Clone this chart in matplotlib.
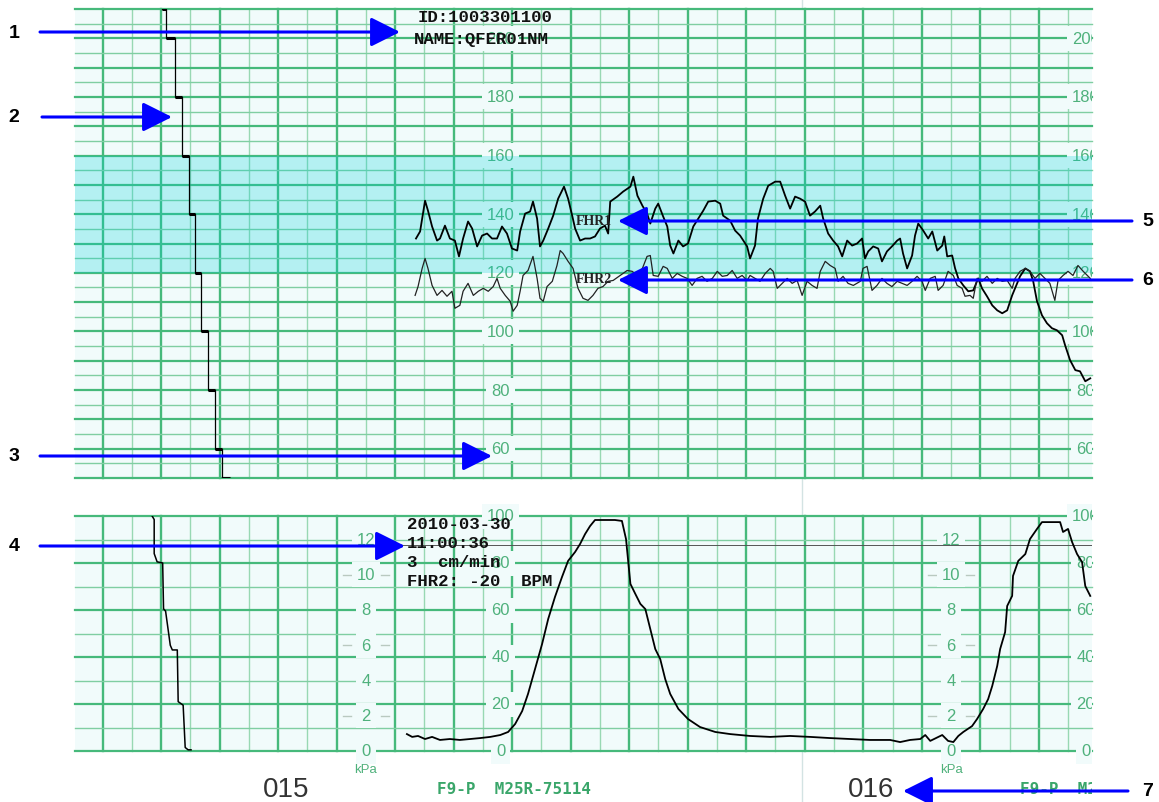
import numpy as np
import matplotlib.pyplot as plt
from matplotlib.transforms import Bbox, TransformedBbox

# --- Trace data (time in s, FHR in bpm, UA in %) ---
fhr1_t = [107.1, 108.5, 110.2, 111.2, 112.6, 114.3, 115.3, 117.0, 118.7, 120.4, 121.8, 123.2,
          124.9, 126.3, 128.0, 129.7, 131.4, 133.1, 134.8, 136.5, 138.2, 139.9, 141.7, 142.7,
          144.4, 146.1, 147.1, 148.5, 149.5, 150.6, 152.3, 154.0, 155.7, 157.7, 159.1, 160.5,
          161.5, 163.2, 164.9, 166.6, 168.3, 170.0, 171.7, 172.8, 173.5, 175.9, 177.9, 180.4,
          181.4, 182.8, 184.5, 186.1, 187.2, 188.9, 189.9, 191.6, 193.0, 194.0, 195.1, 196.8,
          198.4, 200.1, 201.9, 203.6, 205.3, 207.0, 209.4, 211.1, 212.1, 214.5, 216.2, 217.9,
          220.3, 221.3, 223.0, 224.0, 225.8, 227.5, 229.9, 231.6, 233.3, 235.0, 236.7, 238.4,
          240.1, 241.8, 243.5, 245.3, 246.3, 248.0, 249.7, 251.4, 252.8, 254.5, 256.2, 257.9,
          259.6, 260.6, 261.7, 263.4, 265.1, 266.4, 268.1, 269.8, 271.6, 272.6, 273.6, 275.0,
          276.7, 277.7, 278.8, 280.5, 282.2, 283.6, 285.3, 287.0, 287.7, 288.7, 290.4, 291.4,
          292.5, 294.2, 295.9, 297.6, 299.3, 300.6, 302.3, 304.1, 305.8, 307.5, 309.2, 310.9,
          311.9, 313.6, 315.4, 317.0, 318.1, 319.4, 321.1, 322.8, 324.5, 326.2, 328.0, 329.0,
          330.7, 332.5, 334.1, 335.9, 337.6]
fhr1_bpm = [131.7, 134.1, 144.6, 141.2, 135.8, 131.0, 131.7, 136.1, 131.7, 131.0, 125.6, 131.7,
            137.5, 135.1, 129.0, 132.7, 133.4, 131.7, 131.7, 135.8, 133.4, 128.3, 127.6, 134.1,
            140.2, 140.9, 144.3, 138.5, 129.0, 131.0, 135.1, 139.5, 145.3, 149.4, 145.3, 139.5,
            135.1, 131.0, 131.7, 131.7, 132.4, 135.1, 136.1, 133.4, 144.3, 146.0, 147.7, 149.4,
            152.8, 146.3, 142.9, 140.2, 136.8, 141.9, 143.6, 139.2, 135.8, 129.3, 126.6, 131.0,
            129.0, 130.0, 135.8, 138.5, 141.2, 144.3, 144.6, 143.6, 139.5, 137.8, 134.4, 132.7,
            129.0, 124.9, 129.3, 138.5, 145.3, 149.7, 151.1, 151.1, 146.3, 141.9, 146.0, 145.3,
            144.3, 139.5, 140.9, 142.9, 138.5, 133.4, 131.0, 129.0, 125.6, 131.0, 129.3, 130.0,
            131.7, 124.9, 127.3, 129.0, 128.3, 123.9, 127.3, 129.0, 131.0, 131.7, 126.6, 121.5,
            125.9, 132.7, 136.8, 134.4, 131.7, 134.1, 127.6, 129.3, 132.4, 125.6, 125.9, 121.5,
            118.1, 115.7, 113.7, 114.0, 118.1, 114.7, 112.0, 108.9, 107.2, 106.2, 107.2, 112.3,
            114.7, 118.8, 121.5, 120.5, 117.1, 110.3, 105.5, 102.8, 101.1, 100.4, 98.7, 95.3,
            90.2, 86.8, 86.4, 83.0, 84.0]

fhr2_t = [106.8, 107.8, 109.2, 110.2, 111.2, 112.6, 114.3, 116.0, 117.7, 119.4, 120.4, 122.1,
          123.2, 124.9, 126.7, 128.4, 130.1, 131.8, 133.5, 134.8, 135.9, 137.6, 139.3, 140.3,
          141.7, 142.7, 143.7, 145.4, 147.1, 148.5, 149.5, 150.6, 151.9, 153.7, 155.3, 156.4,
          157.4, 159.1, 160.8, 162.5, 164.2, 165.9, 167.6, 169.3, 171.0, 172.8, 174.5, 176.9,
          179.3, 181.0, 182.8, 184.5, 186.1, 187.2, 188.2, 189.9, 191.6, 193.0, 194.7, 196.4,
          198.1, 199.8, 201.5, 203.2, 204.9, 206.6, 208.4, 210.1, 211.8, 213.5, 215.2, 216.9,
          218.6, 220.3, 221.3, 223.0, 224.7, 226.5, 228.2, 229.2, 230.6, 232.3, 234.0, 235.7,
          237.4, 239.1, 240.8, 242.5, 244.2, 245.3, 247.0, 248.7, 250.4, 251.4, 253.1, 254.8,
          256.6, 259.0, 259.9, 261.3, 263.0, 264.7, 266.4, 268.1, 269.8, 271.6, 273.3, 275.0,
          276.7, 278.4, 280.1, 281.2, 282.9, 284.6, 285.6, 287.3, 289.0, 290.8, 292.1, 293.8,
          294.8, 296.5, 297.6, 298.9, 300.6, 302.3, 304.1, 305.8, 307.5, 309.2, 310.9, 311.9,
          313.6, 315.4, 317.0, 318.7, 320.4, 322.1, 323.8, 325.5, 326.6, 328.3, 330.0, 331.7,
          333.4, 335.2, 337.6]
fhr2_bpm = [112.3, 115.3, 121.5, 124.9, 121.5, 115.7, 112.3, 114.0, 112.0, 113.7, 107.9, 108.9,
            113.7, 116.4, 112.3, 113.7, 114.7, 113.7, 115.3, 118.1, 114.7, 112.3, 110.3, 106.9,
            108.9, 113.7, 119.1, 120.8, 125.6, 118.1, 111.3, 110.3, 115.3, 117.1, 122.5, 127.6,
            126.6, 123.9, 121.5, 114.7, 111.3, 110.6, 112.3, 114.7, 115.3, 117.1, 117.4, 119.1,
            120.8, 120.5, 119.1, 121.5, 125.6, 125.9, 119.1, 118.8, 122.2, 121.5, 118.1, 119.8,
            118.8, 118.1, 115.7, 118.1, 118.8, 117.1, 118.1, 120.5, 118.8, 119.1, 120.8, 118.1,
            119.1, 117.4, 119.1, 118.1, 117.1, 119.8, 121.5, 120.5, 114.7, 116.4, 118.1, 116.4,
            117.4, 112.3, 117.1, 115.7, 114.7, 120.5, 123.9, 122.5, 121.5, 117.1, 118.8, 116.4,
            115.7, 117.1, 121.5, 122.2, 114.0, 115.7, 118.1, 116.4, 115.3, 117.1, 116.4, 115.7,
            117.1, 118.8, 117.1, 114.0, 118.1, 118.8, 114.0, 115.7, 120.5, 119.1, 115.7, 114.7,
            112.0, 112.3, 111.3, 118.1, 117.1, 118.8, 116.4, 118.1, 117.1, 117.4, 114.7, 118.1,
            120.5, 121.5, 120.5, 118.1, 119.8, 118.1, 116.4, 110.6, 117.4, 119.1, 120.5, 119.1,
            122.5, 120.5, 118.1]

ua_t = [104.0, 105.8, 107.8, 110.2, 112.6, 115.3, 118.7, 122.1, 125.6, 129.0, 132.5, 135.9,
        138.6, 141.0, 143.4, 145.4, 147.8, 150.2, 152.3, 154.6, 157.0, 159.1, 161.5, 163.2,
        164.9, 166.6, 168.3, 171.7, 175.1, 177.5, 178.9, 180.4, 182.1, 183.8, 185.5, 187.2,
        188.9, 190.6, 192.3, 194.0, 196.8, 200.1, 204.2, 209.4, 214.5, 221.3, 228.2, 235.0,
        241.8, 248.7, 255.5, 262.3, 269.2, 272.6, 276.0, 279.5, 281.2, 282.9, 287.0, 289.0,
        290.8, 292.5, 294.2, 297.2, 298.9, 301.0, 302.7, 304.1, 305.8, 306.8, 308.5, 309.2,
        310.9, 311.2, 313.0, 315.4, 317.0, 319.4, 321.1, 327.3, 328.3, 330.0, 331.4, 333.1,
        334.8, 335.9, 337.6]
ua_pct = [7.2, 6.0, 6.4, 5.1, 6.0, 4.7, 5.1, 4.7, 5.1, 5.5, 6.0, 6.8,
          8.1, 11.5, 17.0, 24.3, 34.9, 45.5, 56.2, 65.5, 74.0, 80.9, 84.7, 88.1,
          92.3, 95.7, 98.3, 98.3, 98.3, 97.9, 90.2, 71.1, 66.8, 62.6, 60.4, 51.9,
          43.4, 39.1, 30.6, 24.3, 17.9, 13.6, 10.2, 8.1, 7.2, 6.4, 6.0, 6.4,
          6.0, 5.5, 5.1, 4.7, 4.7, 3.8, 4.7, 5.1, 6.8, 4.3, 6.8, 4.3,
          3.8, 6.4, 8.1, 10.6, 13.6, 17.9, 22.1, 27.7, 36.2, 43.4, 50.6, 61.7,
          66.0, 74.5, 80.9, 83.8, 90.2, 94.5, 97.4, 97.4, 93.2, 94.5, 88.9, 83.8,
          80.4, 70.2, 66.0]

# calibration staircases printed at the start of the strip
cal_fhr_t = [20.3, 21.6, 24.7, 27.1, 29.5, 31.6, 33.6, 36.0, 38.4, 40.8, 43.5]
cal_fhr_bpm = [210, 200, 180, 160, 140, 120, 100, 80, 60, 50, 50]
cal_ua_t = [16.9, 17.6, 17.6, 18.6, 20.5, 20.8, 21.5, 23.1, 23.8, 25.5, 25.8, 27.5, 28.2, 29.2, 30.2]
cal_ua_pct = [100, 98.5, 84.0, 80.5, 80.0, 60.5, 59.5, 45.0, 43.0, 43.0, 21.0, 19.5, 1.5, 0.5, 0.5]

# scale labels
bpm_labels = [200, 180, 160, 140, 120, 100, 80, 60]
pct_labels = [100, 80, 60, 40, 20, 0]
kpa_labels = [12, 10, 8, 6, 4, 2, 0]
kpa_to_pct = 7.5
label_cols_t = [136, 336]      # bpm / % columns
kpa_cols_t = [90, 290]         # kPa columns
page_numbers = ['015', '016']
page_t = [62.7, 262.7]
paper_code = 'F9-P  M25R-75114'
paper_code_t = [114.4, 313.6]
fold_t = 239.2                 # page perforation

header_lines = ['ID:1003301100', 'NAME:QFER01NM']
info_lines = ['2010-03-30', '11:00:36', '3  cm/min', 'FHR2: -20  BPM']

# callouts: (number, y px, arrow tail x, arrow head x, number x)
callouts = [('1', 33, 40, 400, 14), ('2', 118, 42, 172, 14), ('3', 457, 40, 492, 14),
            ('4', 547, 40, 405, 14), ('5', 222, 1132, 618, 1148), ('6', 281, 1132, 618, 1148),
            ('7', 792, 1128, 903, 1148)]

# --- style ---
W, H = 1159, 803
paper = '#f1fbfb'
thick_g = '#46b97b'
thin_g = '#98d8b3'
lab_g = '#4fb17c'
T0, T1 = -9.47, 338.2

fig = plt.figure(figsize=(W / 100, H / 100), dpi=100)
fig.patch.set_facecolor('white')
clipbox = TransformedBbox(Bbox([[0, 0], [1092 / W, 1]]), fig.transFigure)


def px_axes(x0, y0, x1, y1):
    ax = fig.add_axes([x0 / W, 1 - y1 / H, (x1 - x0) / W, (y1 - y0) / H])
    ax.set_facecolor(paper)
    for s in ax.spines.values():
        s.set_visible(False)
    ax.set_xticks([])
    ax.set_yticks([])
    return ax


def txt(ax, x, y, s, **kw):
    t = ax.text(x, y, s, **kw)
    t.set_clip_box(clipbox)
    t.set_clip_on(True)
    return t


ax1 = px_axes(75, 10, 1092, 479)
ax2 = px_axes(75, 517, 1092, 752)
ax1.set_xlim(T0, T1)
ax1.set_ylim(50, 210)
ax2.set_xlim(T0, T1)
ax2.set_ylim(0, 100)

vt = np.arange(0, 340, 10)
for ax, lo, hi, step, big, skip in [(ax1, 50, 210, 5, 10, []), (ax2, 0, 100, 10, 20, kpa_cols_t)]:
    for t in vt:
        if t in skip:
            continue
        thick = t % 20 == 0
        ax.plot([t, t], [lo, hi], color=thick_g if thick else thin_g,
                lw=1.7 if thick else 1.0, zorder=1, clip_on=False)
    for v in np.arange(lo, hi + 1, step):
        thick = v % big == 0
        ax.plot([T0, T1], [v, v], color=thick_g if thick else '#80cea2',
                lw=1.6 if thick else 1.0, zorder=1, clip_on=False)

# normal FHR band
ax1.axhspan(120, 160, color='#00d0d8', alpha=0.25, lw=0, zorder=4)

lab_box = dict(boxstyle='square,pad=0.3', fc=paper, ec='none')
for tc in label_cols_t:
    for v in bpm_labels:
        txt(ax1, tc, v, str(v), ha='center', va='center', color=lab_g, fontsize=12,
            family='Liberation Sans', bbox=lab_box, zorder=3)
    for v in pct_labels:
        txt(ax2, tc, v, str(v), ha='center', va='center', color=lab_g, fontsize=12,
            family='Liberation Sans', bbox=lab_box, zorder=3)
for tc in kpa_cols_t:
    for k in kpa_labels:
        y = k * kpa_to_pct
        if k % 4 != 0:
            ax2.plot([tc - 8, tc - 5], [y, y], color='#b9c9c0', lw=1.0, zorder=2)
            ax2.plot([tc + 5, tc + 8], [y, y], color='#b9c9c0', lw=1.0, zorder=2)
        txt(ax2, tc, y, str(k), ha='center', va='center', color=lab_g, fontsize=12,
            family='Liberation Sans', bbox=lab_box, zorder=3)
    txt(ax2, tc, -7.5, 'kPa', ha='center', va='center', color=lab_g, fontsize=9.5,
        family='Liberation Sans')

# thin printed reference line across the UA strip
ax2.plot([T0, T1], [87.7, 87.7], color='#555555', lw=0.7, zorder=4)

# traces
ax1.plot(fhr1_t, fhr1_bpm, color='black', lw=1.3, zorder=5)
ax1.plot(fhr2_t, fhr2_bpm, color='#222222', lw=0.9, zorder=5)
ax1.step(cal_fhr_t, cal_fhr_bpm, where='post', color='black', lw=0.9, zorder=5)
ax1.hlines(cal_fhr_bpm[:-1], cal_fhr_t[:-1], cal_fhr_t[1:], color='black', lw=2.2, zorder=5)
ax2.plot(ua_t, ua_pct, color='black', lw=1.3, zorder=5)
ax2.plot(cal_ua_t, cal_ua_pct, color='black', lw=1.1, zorder=5)

# printed annotations
mono = dict(family='Liberation Mono', weight='bold', color='#111111', fontsize=12.5, zorder=6)
txt(ax1, 107.5, 207.3, header_lines[0], ha='left', va='center', **mono)
txt(ax1, 106.5, 199.8, header_lines[1], ha='left', va='center', **mono)
for i, s in enumerate(info_lines):
    txt(ax2, 104.0, 97.0 - 8.2 * i, s, ha='left', va='center', **mono)
txt(ax1, 168, 137.8, 'FHR1', ha='center', va='center', family='Liberation Serif',
    weight='bold', fontsize=10, color='#222222', zorder=6)
txt(ax1, 168, 118.1, 'FHR2', ha='center', va='center', family='Liberation Serif',
    weight='bold', fontsize=10, color='#222222', zorder=6)

# faint page perforation line, visible between the strips
fig.add_artist(plt.Line2D([(102.7 + fold_t * 2.925) / W] * 2, [0, 1], transform=fig.transFigure,
                          color='#d3e3e3', lw=1.0, zorder=-1))

ybot = -(790 - 752) / 235 * 100
for s, tc in zip(page_numbers, page_t):
    txt(ax2, tc, ybot, s, ha='center', va='center', family='Liberation Sans',
        fontsize=20, color='#333333')
for tc in paper_code_t:
    txt(ax2, tc, ybot, paper_code, ha='left', va='center',
        family='DejaVu Sans Mono', weight='bold', fontsize=11.5, color='#3aa66a')

# overlay with the numbered callouts
ov = fig.add_axes([0, 0, 1, 1])
ov.set_xlim(0, W)
ov.set_ylim(H, 0)
ov.axis('off')
for num, y, x_from, x_to, nx in callouts:
    ov.annotate('', xy=(x_to, y), xytext=(x_from, y),
                arrowprops=dict(arrowstyle='-|>,head_length=0.9,head_width=0.45',
                                color='#0000ff', lw=2.2, mutation_scale=20,
                                shrinkA=0, shrinkB=0))
    ov.text(nx, y, num, ha='center', va='center', fontsize=14, weight='bold',
            family='Liberation Sans', color='black')

fig.savefig('out.png', dpi=100, facecolor='white')
